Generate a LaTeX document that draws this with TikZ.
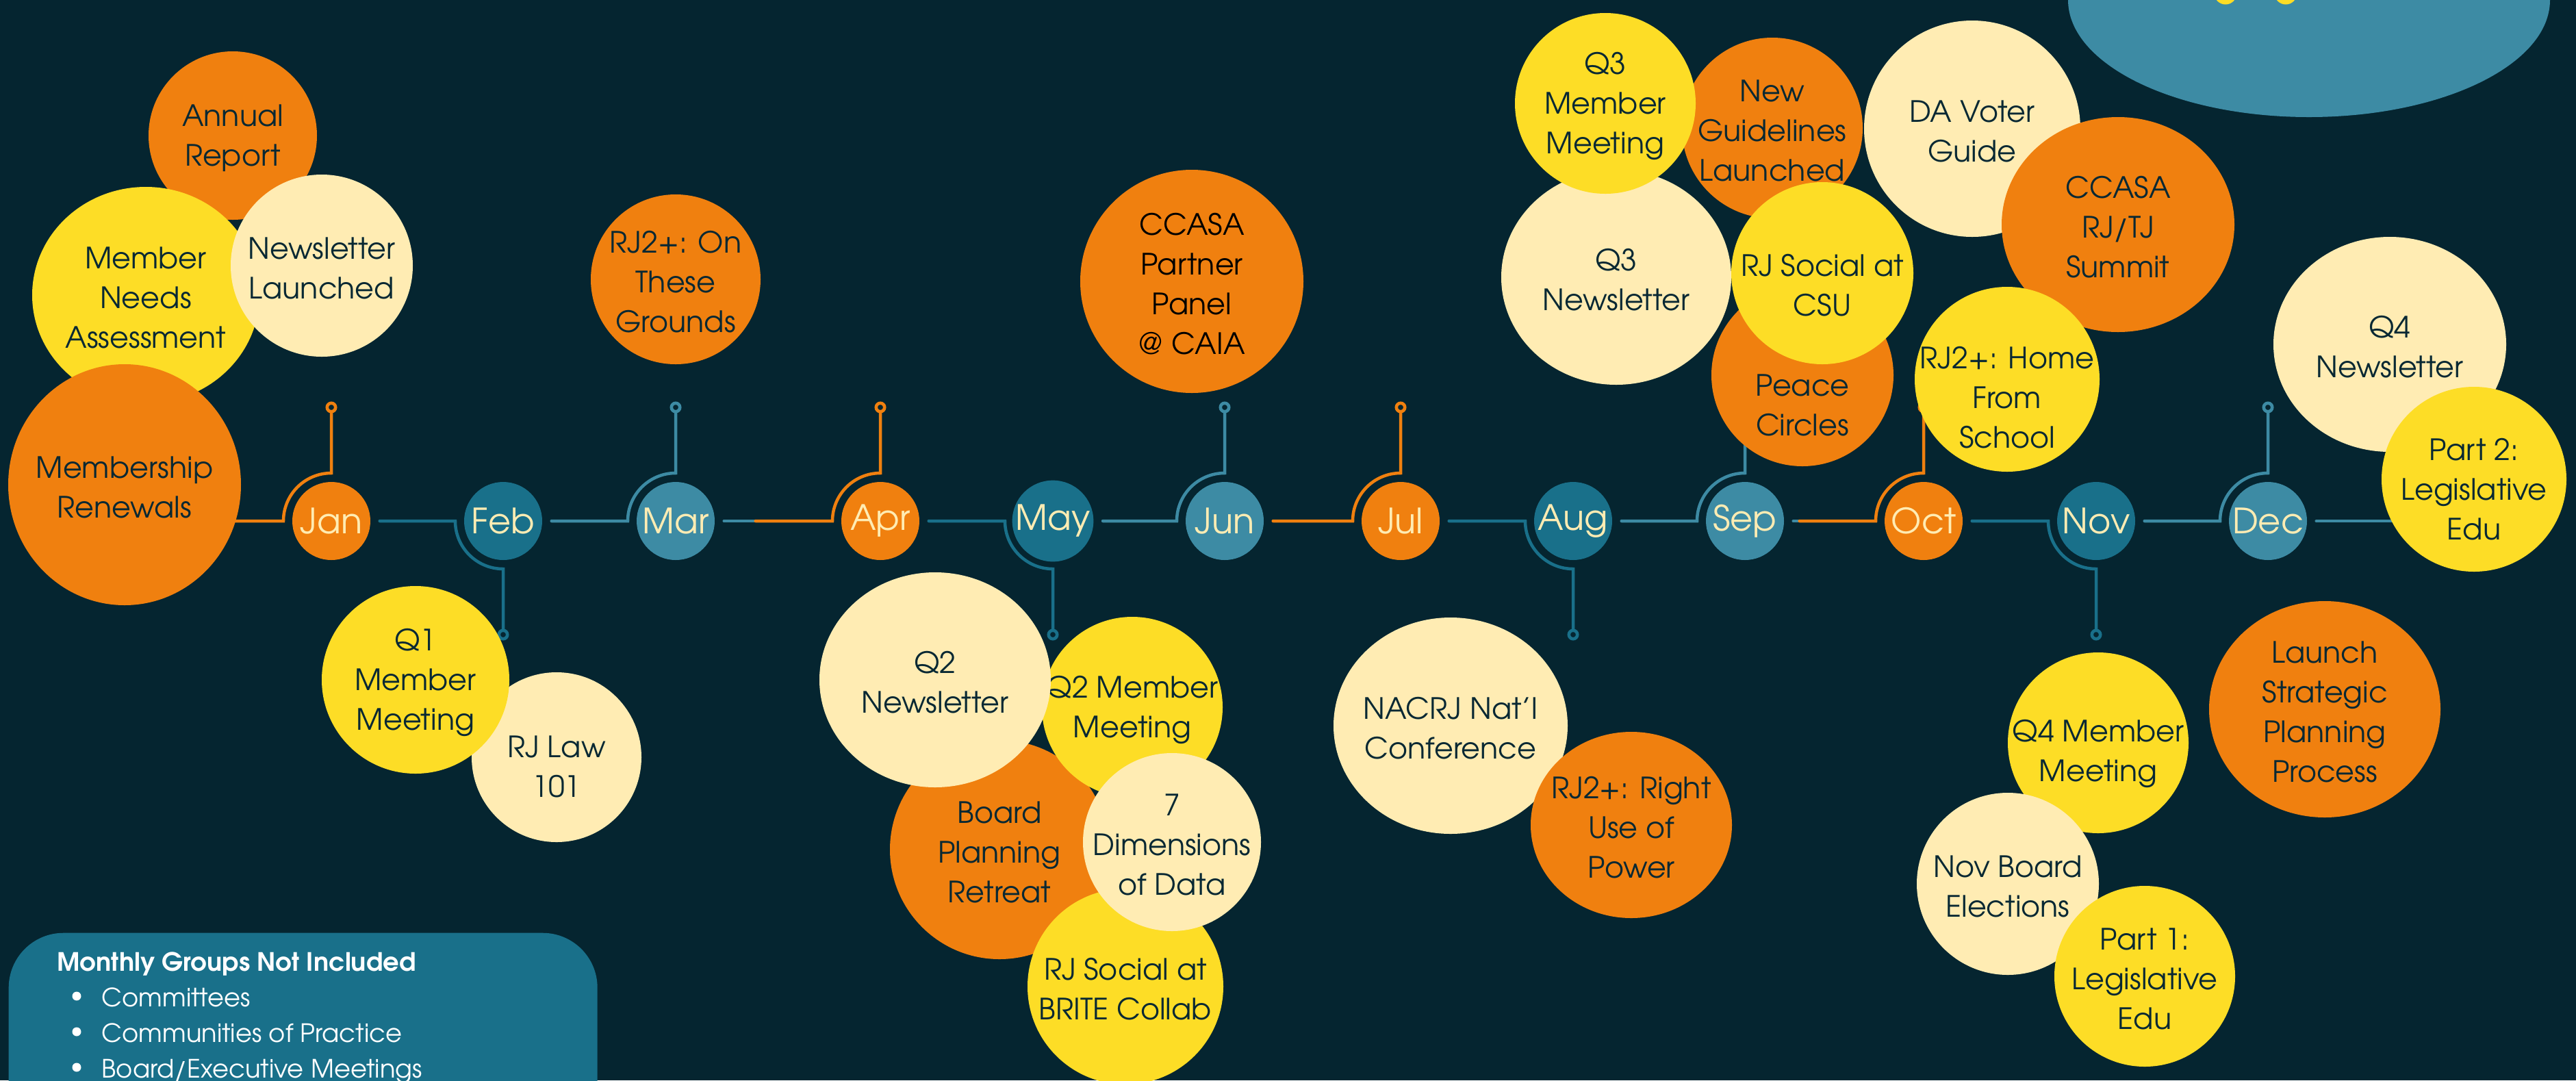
\documentclass[tikz,border=0pt]{standalone}
\usepackage{fontspec}
\setmainfont{TeX Gyre Adventor}
\usepackage{xcolor}
\usepackage{tikz}
\usetikzlibrary{shapes.geometric,positioning,calc}
\definecolor{bg}{HTML}{052530}
\definecolor{orange}{HTML}{F0800F}
\definecolor{yellow}{HTML}{FDDD26}
\definecolor{cream}{HTML}{FFECB3}
\definecolor{tealdk}{HTML}{19708A}
\definecolor{teallt}{HTML}{3D8BA4}
\definecolor{ink}{HTML}{082833}
\pgfdeclarelayer{back}
\pgfdeclarelayer{timeline}
\pgfsetlayers{back,timeline,main}

\begin{document}
\begin{tikzpicture}[
  month/.style={circle, minimum size=1.14cm, inner sep=0pt, text=cream, font=\fontsize{14.5}{17}\selectfont},
  bubble/.style={ellipse, inner sep=0pt},
  btext/.style={align=center, text=ink, yshift=-0.04cm, font=\fontsize{12.2}{16.5}\selectfont},
  tl/.style={line width=0.045cm, line cap=round},
  ring/.style={circle, minimum size=0.124cm, inner sep=0pt, line width=0.046cm, fill=bg},
  legendtext/.style={anchor=base west, inner sep=0pt, text=white, font=\fontsize{10.5}{14}\selectfont},
  dot/.style={circle, fill=white, minimum size=0.13cm, inner sep=0pt}
]
  \useasboundingbox (0,0) rectangle (37.63,-15.78);
  \begin{pgfonlayer}{back}
    \fill[bg] (0,0) rectangle (37.63,-15.78);
  \end{pgfonlayer}
  \clip (0,0) rectangle (37.63,-15.78);

  % Months
  \node[month, fill=orange] (jan) at (4.84,-7.61) {Jan};
  \node[month, fill=tealdk] (feb) at (7.35,-7.61) {Feb};
  \node[month, fill=teallt] (mar) at (9.87,-7.61) {Mar};
  \node[month, fill=orange] (apr) at (12.86,-7.61) {Apr};
  \node[month, fill=tealdk] (may) at (15.38,-7.61) {May};
  \node[month, fill=teallt] (jun) at (17.89,-7.61) {Jun};
  \node[month, fill=orange] (jul) at (20.46,-7.61) {Jul};
  \node[month, fill=tealdk] (aug) at (22.98,-7.61) {Aug};
  \node[month, fill=teallt] (sep) at (25.49,-7.61) {Sep};
  \node[month, fill=orange] (oct) at (28.10,-7.61) {Oct};
  \node[month, fill=tealdk] (nov) at (30.62,-7.61) {Nov};
  \node[month, fill=teallt] (dec) at (33.13,-7.61) {Dec};

  % Top right corner
  \node[bubble, fill=teallt, minimum width=7.04cm, minimum height=3.42cm] (corner) at (33.73,0) {};
  \node[circle, fill=yellow, minimum size=0.33cm, inner sep=0pt] (cornerdotA) at (32.51,0.10) {};
  \node[circle, fill=yellow, minimum size=0.33cm, inner sep=0pt] (cornerdotB) at (33.39,0.10) {};

  % Jan - Mar events
  \node[bubble, fill=orange, minimum size=2.46cm, label={[btext]center:{Annual\\Report}}] (annual) at (3.40,-1.98) {};
  \node[bubble, fill=yellow, minimum width=3.32cm, minimum height=3.16cm, label={[btext]center:{Member\\Needs\\Assessment}}] (needs) at (2.13,-4.31) {};
  \node[bubble, fill=cream, minimum size=2.66cm, label={[btext]center:{Newsletter\\Launched}}] (launched) at (4.70,-3.88) {};
  \node[bubble, fill=orange, minimum width=3.40cm, minimum height=3.52cm, label={[btext]center:{Membership\\Renewals}}] (renewals) at (1.82,-7.08) {};
  \node[bubble, fill=orange, minimum size=2.48cm, label={[btext]center:{RJ2+: On\\These\\Grounds}}] (grounds) at (9.87,-4.08) {};
  \node[bubble, fill=cream, minimum size=2.48cm, label={[btext, yshift=-0.10cm]center:{RJ Law\\101}}] (rjlaw) at (8.13,-11.06) {};
  \node[bubble, fill=yellow, minimum size=2.74cm, label={[btext]center:{Q1\\Member\\Meeting}}] (qonemeet) at (6.07,-9.93) {};

  % Apr - Jun events
  \node[bubble, fill=orange, minimum size=3.26cm, label={[btext, text=black]center:{CCASA\\Partner\\Panel\\@ CAIA}}] (panel) at (17.41,-4.11) {};
  \node[bubble, fill=orange, minimum size=3.20cm, label={[btext]center:{Board\\Planning\\Retreat}}] (retreat) at (14.60,-12.41) {};
  \node[bubble, fill=yellow, minimum size=2.86cm, label={[btext]center:{RJ Social at\\BRITE Collab}}] (brite) at (16.44,-14.41) {};
  \node[bubble, fill=yellow, minimum size=2.64cm, label={[btext]center:{Q2 Member\\Meeting}}] (qtwomeet) at (16.54,-10.33) {};
  \node[bubble, fill=cream, minimum width=3.38cm, minimum height=3.14cm, label={[btext]center:{Q2\\Newsletter}}] (qtwonews) at (13.66,-9.93) {};
  \node[bubble, fill=cream, minimum size=2.60cm, label={[btext]center:{7\\Dimensions\\of Data}}] (dims) at (17.12,-12.30) {};

  % Jul - Sep events
  \node[bubble, fill=cream, minimum width=3.42cm, minimum height=3.16cm, label={[btext]center:{NACRJ Nat’l\\Conference}}] (nacrj) at (21.19,-10.60) {};
  \node[bubble, fill=orange, minimum width=2.94cm, minimum height=2.72cm, label={[btext]center:{RJ2+: Right\\Use of\\Power}}] (rightuse) at (23.83,-12.05) {};
  \node[bubble, fill=cream, minimum width=3.36cm, minimum height=3.14cm, label={[btext]center:{Q3\\Newsletter}}] (qthreenews) at (23.61,-4.05) {};
  \node[bubble, fill=orange, minimum size=2.64cm, label={[btext]center:{New\\Guidelines\\Launched}}] (guidelines) at (25.89,-1.87) {};
  \node[bubble, fill=yellow, minimum size=2.64cm, label={[btext]center:{Q3\\Member\\Meeting}}] (qthreemeet) at (23.45,-1.51) {};
  \node[bubble, fill=orange, minimum size=2.66cm, label={[btext, yshift=-0.40cm]center:{Peace\\Circles}}] (peace) at (26.33,-5.48) {};
  \node[bubble, fill=yellow, minimum size=2.66cm, label={[btext, yshift=-0.14cm]center:{RJ Social at\\CSU}}] (csu) at (26.62,-3.99) {};

  % Oct - Dec events
  \node[bubble, fill=cream, minimum size=3.16cm, label={[btext]center:{DA Voter\\Guide}}] (voter) at (28.81,-1.88) {};
  \node[bubble, fill=orange, minimum width=3.40cm, minimum height=3.14cm, label={[btext]center:{CCASA\\RJ/TJ\\Summit}}] (summit) at (30.94,-3.28) {};
  \node[bubble, fill=yellow, minimum size=2.70cm, label={[btext, yshift=-0.23cm]center:{RJ2+: Home\\From\\School}}] (home) at (29.32,-5.54) {};
  \node[bubble, fill=cream, minimum width=3.40cm, minimum height=3.14cm, label={[btext]center:{Q4\\Newsletter}}] (qfournews) at (34.91,-5.03) {};
  \node[bubble, fill=yellow, minimum size=2.70cm, label={[btext, yshift=-0.11cm]center:{Part 2:\\Legislative\\Edu}}] (parttwo) at (36.14,-7.00) {};
  \node[bubble, fill=yellow, minimum size=2.64cm, label={[btext, yshift=-0.12cm]center:{Q4 Member\\Meeting}}] (qfourmeet) at (30.65,-10.85) {};
  \node[bubble, fill=cream, minimum size=2.66cm, label={[btext]center:{Nov Board\\Elections}}] (elections) at (29.33,-12.91) {};
  \node[bubble, fill=yellow, minimum size=2.64cm, label={[btext]center:{Part 1:\\Legislative\\Edu}}] (partone) at (31.33,-14.26) {};
  \node[bubble, fill=orange, minimum width=3.38cm, minimum height=3.16cm, label={[btext]center:{Launch\\Strategic\\Planning\\Process}}] (strategic) at (33.96,-10.36) {};

  % Legend
  \node[fill=tealdk, rounded corners=0.8cm, minimum width=8.60cm, minimum height=3.00cm, inner sep=0pt, anchor=north west] (legend) at (0.12,-13.62) {};
  \node[legendtext, font=\fontsize{10.5}{14}\selectfont\bfseries] (legendtitle) at (0.83,-14.18) {Monthly Groups Not Included};
  \node[dot] (dotA) at (1.12,-14.55) {};
  \node[legendtext] (itemA) at (1.48,-14.70) {Committees};
  \node[dot] (dotB) at (1.12,-15.07) {};
  \node[legendtext] (itemB) at (1.48,-15.22) {Communities of Practice};
  \node[dot] (dotC) at (1.12,-15.59) {};
  \node[legendtext] (itemC) at (1.48,-15.74) {Board/Executive Meetings};

  % Timeline, under the bubbles
  \begin{pgfonlayer}{timeline}
    \node[ring, draw=orange] (janring) at (4.84,-5.95) {};
    \node[ring, draw=tealdk] (febring) at (7.35,-9.27) {};
    \node[ring, draw=teallt] (marring) at (9.87,-5.95) {};
    \node[ring, draw=orange] (aprring) at (12.86,-5.95) {};
    \node[ring, draw=tealdk] (mayring) at (15.38,-9.27) {};
    \node[ring, draw=teallt] (junring) at (17.89,-5.95) {};
    \node[ring, draw=orange] (julring) at (20.46,-5.95) {};
    \node[ring, draw=tealdk] (augring) at (22.98,-9.27) {};
    \node[ring, draw=teallt] (sepring) at (25.49,-5.95) {};
    \node[ring, draw=orange] (octring) at (28.10,-5.95) {};
    \node[ring, draw=tealdk] (novring) at (30.62,-9.27) {};
    \node[ring, draw=teallt] (decring) at (33.13,-5.95) {};

    \draw[tl, orange] (renewals.center |- jan) -- ([xshift=-0.70cm]jan.center) arc[start angle=180, end angle=90, radius=0.70cm] -- (janring.south);
    \draw[tl, tealdk] ([xshift=0.13cm]jan.east) -- ([xshift=-0.70cm]feb.center) arc[start angle=180, end angle=270, radius=0.70cm] -- (febring.north);
    \draw[tl, teallt] ([xshift=0.13cm]feb.east) -- ([xshift=-0.70cm]mar.center) arc[start angle=180, end angle=90, radius=0.70cm] -- (marring.south);
    \draw[tl, teallt] ([xshift=0.13cm]mar.east) -- ([xshift=0.59cm]mar.east);
    \draw[tl, orange] ([xshift=0.59cm]mar.east) -- ([xshift=-0.70cm]apr.center) arc[start angle=180, end angle=90, radius=0.70cm] -- (aprring.south);
    \draw[tl, tealdk] ([xshift=0.13cm]apr.east) -- ([xshift=-0.70cm]may.center) arc[start angle=180, end angle=270, radius=0.70cm] -- (mayring.north);
    \draw[tl, teallt] ([xshift=0.13cm]may.east) -- ([xshift=-0.70cm]jun.center) arc[start angle=180, end angle=90, radius=0.70cm] -- (junring.south);
    \draw[tl, orange] ([xshift=0.13cm]jun.east) -- ([xshift=-0.70cm]jul.center) arc[start angle=180, end angle=90, radius=0.70cm] -- (julring.south);
    \draw[tl, tealdk] ([xshift=0.13cm]jul.east) -- ([xshift=-0.70cm]aug.center) arc[start angle=180, end angle=270, radius=0.70cm] -- (augring.north);
    \draw[tl, teallt] ([xshift=0.13cm]aug.east) -- ([xshift=-0.70cm]sep.center) arc[start angle=180, end angle=90, radius=0.70cm] -- (sepring.south);
    \draw[tl, teallt] ([xshift=0.13cm]sep.east) -- ([xshift=0.22cm]sep.east);
    \draw[tl, orange] ([xshift=0.22cm]sep.east) -- ([xshift=-0.70cm]oct.center) arc[start angle=180, end angle=90, radius=0.70cm] -- (octring.south);
    \draw[tl, tealdk] ([xshift=0.13cm]oct.east) -- ([xshift=-0.70cm]nov.center) arc[start angle=180, end angle=270, radius=0.70cm] -- (novring.north);
    \draw[tl, teallt] ([xshift=0.13cm]nov.east) -- ([xshift=-0.70cm]dec.center) arc[start angle=180, end angle=90, radius=0.70cm] -- (decring.south);
    \draw[tl, teallt] ([xshift=0.13cm]dec.east) -- (parttwo.center |- dec);
  \end{pgfonlayer}
\end{tikzpicture}
\end{document}
